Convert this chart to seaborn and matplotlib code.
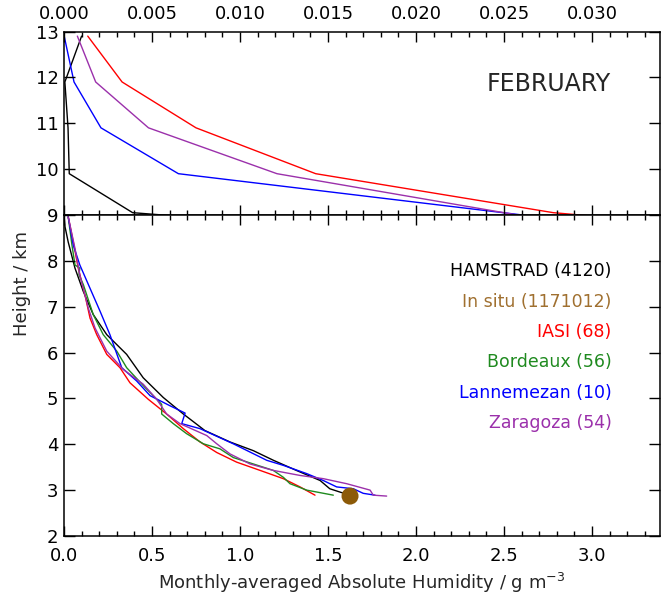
import matplotlib
matplotlib.use("Agg")
import matplotlib.pyplot as plt
from matplotlib.ticker import MultipleLocator, FormatStrFormatter
import pandas as pd
import seaborn as sns

# ---- upper panel (9-13 km), top axis in g m-3 / 100 ----
up_hamstrad_h = [12.9, 11.9, 10.9, 9.9, 9.05, 8.97]
up_hamstrad_x = [0.0010, 0.00005, 0.00023, 0.0003, 0.0039, 0.0066]
up_iasi_h = [12.9, 11.9, 10.9, 9.9, 9.05, 8.98]
up_iasi_x = [0.00135, 0.0033, 0.0075, 0.0143, 0.0278, 0.0299]
up_lanne_h = [12.92, 11.9, 10.9, 9.9, 8.96]
up_lanne_x = [0.0, 0.00057, 0.0021, 0.0065, 0.0269]
up_zara_h = [12.9, 11.9, 10.9, 9.9, 8.97]
up_zara_x = [0.00076, 0.0018, 0.0048, 0.0121, 0.0262]

# ---- lower panel (2-9 km) ----
hamstrad_h = [9.0, 8.74, 8.41, 7.84, 7.33, 6.83, 6.39, 5.96, 5.45, 5.02, 4.66, 4.41,
              4.30, 4.05, 3.86, 3.65, 3.43, 3.21, 3.03, 2.93]
hamstrad_x = [0.0, 0.006, 0.024, 0.0625, 0.11, 0.166, 0.243, 0.356, 0.45, 0.564, 0.678, 0.763,
              0.80, 0.943, 1.076, 1.19, 1.32, 1.455, 1.51, 1.59]
iasi_h = [8.96, 8.41, 7.84, 7.26, 6.75, 6.39, 5.96, 5.67, 5.34, 4.98, 4.66, 4.34,
          4.05, 3.82, 3.61, 3.43, 3.25, 3.07, 2.89]
iasi_x = [0.024, 0.053, 0.081, 0.119, 0.148, 0.186, 0.243, 0.318, 0.375, 0.479, 0.583, 0.678,
          0.773, 0.868, 0.981, 1.114, 1.246, 1.341, 1.426]
bordeaux_h = [8.96, 8.35, 7.91, 7.84, 7.70, 7.48, 6.83, 6.39, 6.03, 5.67, 5.24, 4.98, 4.87,
              4.66, 4.45, 4.23, 4.01, 3.90, 3.71, 3.57, 3.43, 3.28, 3.14, 3.00, 2.89]
bordeaux_x = [0.024, 0.045, 0.0625, 0.09, 0.085, 0.11, 0.166, 0.223, 0.30, 0.356, 0.46, 0.527, 0.555,
              0.555, 0.621, 0.697, 0.792, 0.886, 0.962, 1.076, 1.189, 1.246, 1.284, 1.379, 1.53]
lanne_h = [8.96, 8.34, 7.91, 7.40, 6.90, 6.39, 5.67, 5.38, 5.06, 4.84, 4.68, 4.45, 4.34,
           4.01, 3.65, 3.54, 3.36, 3.21, 3.07, 3.03, 2.93, 2.89]
lanne_x = [0.024, 0.053, 0.09, 0.148, 0.205, 0.261, 0.328, 0.413, 0.489, 0.602, 0.688, 0.669, 0.773,
           0.962, 1.152, 1.246, 1.379, 1.473, 1.549, 1.644, 1.70, 1.767]
zara_h = [8.96, 8.27, 7.69, 6.97, 6.54, 6.03, 5.63, 5.31, 4.98, 4.66, 4.45, 4.19, 4.01, 3.79,
          3.57, 3.43, 3.32, 3.25, 3.14, 3.00, 2.89, 2.87]
zara_x = [0.024, 0.0625, 0.09, 0.138, 0.176, 0.243, 0.337, 0.45, 0.527, 0.583, 0.659, 0.811, 0.868,
          0.943, 1.057, 1.189, 1.341, 1.473, 1.606, 1.739, 1.757, 1.833]
insitu_h = [2.87]
insitu_x = [1.625]

labels = ["HAMSTRAD (4120)", "In situ (1171012)", "IASI (68)",
          "Bordeaux (56)", "Lannemezan (10)", "Zaragoza (54)"]
colors = {"HAMSTRAD": "black", "In situ": "#8c5a08", "IASI": "#ff0000",
          "Bordeaux": "#1f8a1f", "Lannemezan": "#0000ff", "Zaragoza": "#9b30ab"}
text_colors = ["black", "#a07030", "#ff0000", "#1f8a1f", "#0000ff", "#9b30ab"]


def frame(pairs):
    parts = [pd.DataFrame({"site": k, "height": h, "humidity": x}) for k, h, x in pairs]
    return pd.concat(parts, ignore_index=True)


upper = frame([("HAMSTRAD", up_hamstrad_h, up_hamstrad_x), ("IASI", up_iasi_h, up_iasi_x),
               ("Lannemezan", up_lanne_h, up_lanne_x), ("Zaragoza", up_zara_h, up_zara_x)])
lower = frame([("HAMSTRAD", hamstrad_h, hamstrad_x), ("IASI", iasi_h, iasi_x),
               ("Bordeaux", bordeaux_h, bordeaux_x), ("Lannemezan", lanne_h, lanne_x),
               ("Zaragoza", zara_h, zara_x)])

sns.set_theme(style="ticks", rc={
    "axes.edgecolor": "black",
    "axes.linewidth": 1.1,
    "axes.axisbelow": False,
    "xtick.color": "black", "ytick.color": "black",
    "xtick.direction": "in", "ytick.direction": "in",
    "xtick.top": True, "ytick.right": True,
    "xtick.major.size": 7, "xtick.minor.size": 3.5, "ytick.major.size": 8,
    "xtick.major.width": 1, "xtick.minor.width": 1, "ytick.major.width": 1,
})
plt.rcParams["font.family"] = ["DejaVu Sans"]
plt.rcParams["font.size"] = 13
plt.rcParams["xtick.labelsize"] = 13
plt.rcParams["ytick.labelsize"] = 13
plt.rcParams["axes.labelsize"] = 13

fig, (ax_top, ax_bot) = plt.subplots(2, 1, figsize=(6.61, 5.96), dpi=100,
                                     gridspec_kw={"height_ratios": [4, 7], "hspace": 0})
fig.subplots_adjust(left=0.0968, right=0.9985, top=0.9471, bottom=0.1007)

sns.lineplot(data=upper, x="humidity", y="height", hue="site", palette=colors,
             sort=False, estimator=None, legend=False, lw=1.0, ax=ax_top)
sns.lineplot(data=lower, x="humidity", y="height", hue="site", palette=colors,
             sort=False, estimator=None, legend=False, lw=1.0, ax=ax_bot)
sns.scatterplot(x=insitu_x, y=insitu_h, color=colors["In situ"], s=150,
                edgecolor="none", ax=ax_bot, zorder=5)

# upper panel axes
ax_top.set_xlim(0, 0.03386)
ax_top.set_ylim(9, 13)
ax_top.xaxis.set_major_locator(MultipleLocator(0.005))
ax_top.xaxis.set_minor_locator(MultipleLocator(0.001))
ax_top.xaxis.set_major_formatter(FormatStrFormatter("%.3f"))
ax_top.set_yticks([10, 11, 12, 13])
ax_top.tick_params(axis="x", which="both", direction="in", top=True, bottom=True,
                   labeltop=True, labelbottom=False, pad=6)
ax_top.tick_params(axis="y", which="major", direction="in", left=True, right=True, pad=4)
ax_top.set_xlabel("")
ax_top.set_ylabel("")
ax_top.text(0.918, 0.716, "FEBRUARY", transform=ax_top.transAxes, ha="right",
            va="center", fontsize=17)

# lower panel axes
ax_bot.set_xlim(0, 3.386)
ax_bot.set_ylim(2, 9)
ax_bot.xaxis.set_major_locator(MultipleLocator(0.5))
ax_bot.xaxis.set_minor_locator(MultipleLocator(0.1))
ax_bot.xaxis.set_major_formatter(FormatStrFormatter("%.1f"))
ax_bot.set_yticks([2, 3, 4, 5, 6, 7, 8, 9])
ax_bot.tick_params(axis="x", which="both", direction="in", top=True, bottom=True, pad=8)
ax_bot.tick_params(axis="y", which="major", direction="in", left=True, right=True, pad=4)
ax_bot.set_xlabel("Monthly-averaged Absolute Humidity / g m$^{-3}$", labelpad=4)
ax_bot.set_ylabel("")

# coloured legend text, right aligned
for i, (lab, col) in enumerate(zip(labels, text_colors)):
    ax_bot.text(0.919, 0.824 - i * 0.0945, lab, transform=ax_bot.transAxes,
                ha="right", va="center", color=col, fontsize=12.5)

fig.text(0.033, 0.525, "Height / km", rotation=90, ha="center", va="center", fontsize=13)

fig.savefig("out.png", dpi=100)
